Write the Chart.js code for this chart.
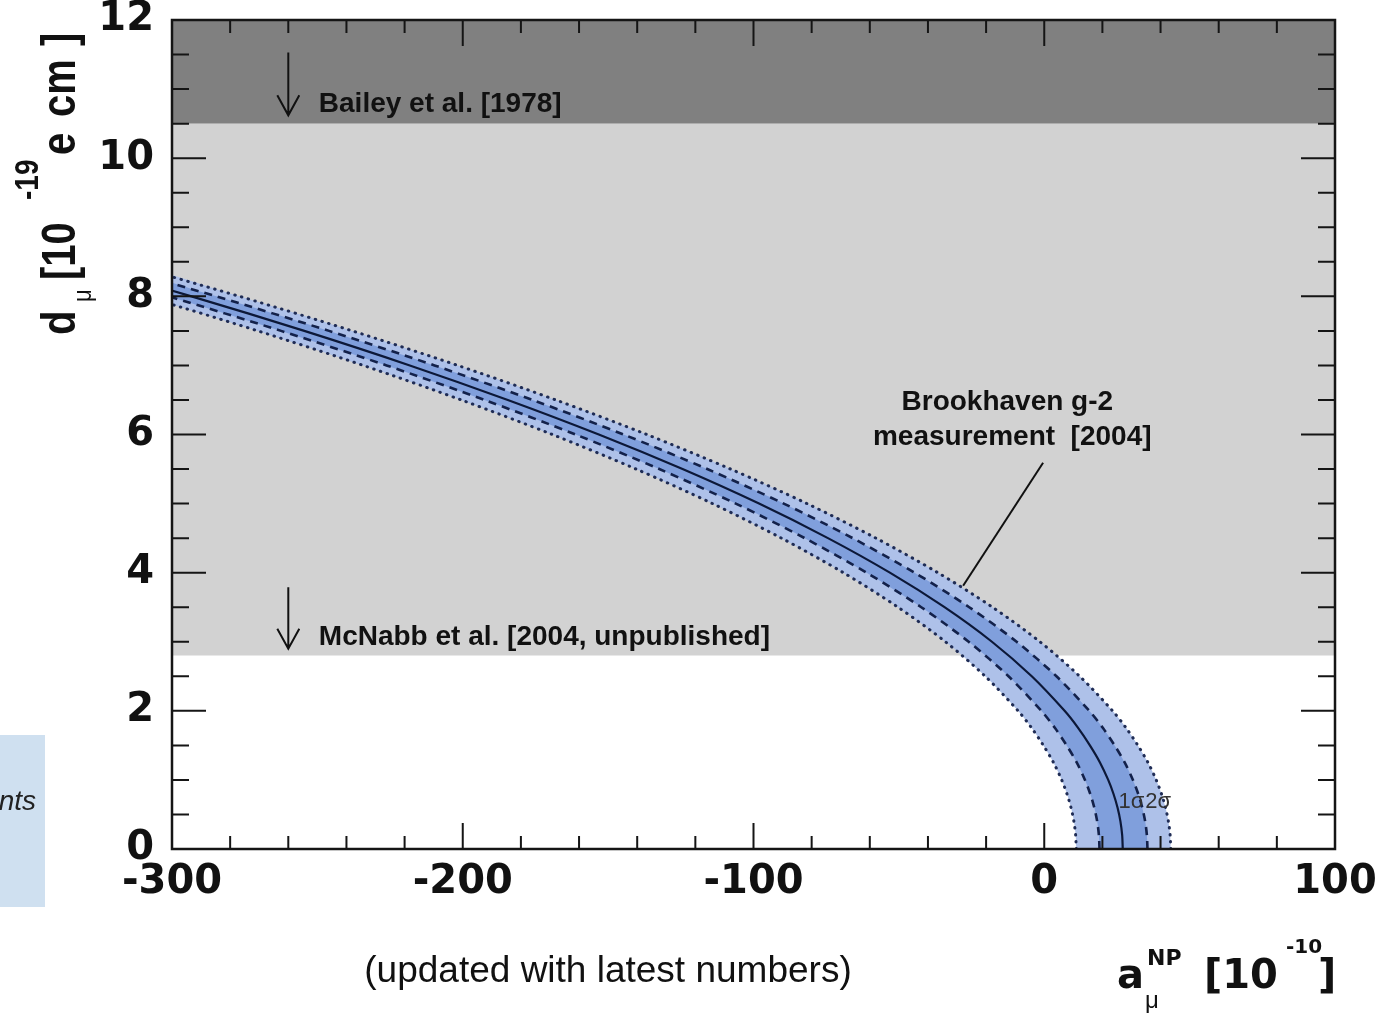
<!DOCTYPE html>
<html>
<head>
<meta charset="utf-8">
<script src="https://cdn.jsdelivr.net/npm/chart.js@4.4.1/dist/chart.umd.min.js"></script>
<style>
  html, body { margin: 0; padding: 0; background: #fff; }
  #wrap { width: 1384px; height: 1016px; position: relative; }
</style>
</head>
<body>
<div id="wrap"><canvas id="edmChart" width="1384" height="1016"></canvas></div>
<script>
// axis ranges and tick labels
const xMin = -300, xMax = 100, xMinorStep = 20;
const yMin = 0, yMax = 12, yMinorStep = 0.5;
const xTicks = [-300, -200, -100, 0, 100];
const yTicks = [0, 2, 4, 6, 8, 10, 12];

// excluded regions (upper limits on d_mu)
const baileyLimit = 10.5;   // Bailey et al. [1978]
const mcnabbLimit = 2.8;    // McNabb et al. [2004]

const dLevels = [0, 0.2, 0.4, 0.6, 0.8, 1.0, 1.25, 1.5, 1.75, 2.0, 2.5, 3.0, 3.5,
                 4.0, 4.5, 5.0, 5.5, 6.0, 6.5, 7.0, 7.5, 8.0, 8.5];
// a_mu^NP of each curve at those levels
const aCentral   = [27, 26.8, 26.2, 25.2, 23.8, 22, 19.2, 15.7, 11.7, 7, -4.3, -18, -34.3,
                    -53.1, -74.4, -98.1, -124.4, -153.2, -184.5, -218.2, -254.5, -293.3, -334.6];
const aSigma1Low = [19, 18.8, 18.2, 17.2, 15.8, 14, 11.2, 7.7, 3.7, -1, -12.3, -26, -42.3,
                    -61.1, -82.4, -106.1, -132.4, -161.2, -192.5, -226.2, -262.5, -301.3, -342.6];
const aSigma1High = [35.5, 35.3, 34.7, 33.7, 32.3, 30.5, 27.7, 24.2, 20.2, 15.5, 4.2, -9.5, -25.8,
                     -44.6, -65.9, -89.6, -115.9, -144.7, -176, -209.7, -246, -284.8, -326.1];
const aSigma2Low = [11, 10.8, 10.2, 9.2, 7.8, 6, 3.2, -0.3, -4.3, -9, -20.3, -34, -50.3,
                    -69.1, -90.4, -114.1, -140.4, -169.2, -200.5, -234.2, -270.5, -309.3, -350.6];
const aSigma2High = [43.5, 43.3, 42.7, 41.7, 40.3, 38.5, 35.7, 32.2, 28.2, 23.5, 12.2, -1.5, -17.8,
                     -36.6, -57.9, -81.6, -107.9, -136.7, -168, -201.7, -238, -276.8, -318.1];

const FONT = '"Liberation Sans", Arial, Helvetica, sans-serif';
const AXFONT = '"DejaVu Sans", "Liberation Sans", sans-serif';

function toPoints(xs) {
  return xs.map((x, i) => ({ x: x, y: dLevels[i] }));
}
// closed outline: lower edge upwards, upper edge back down
function bandPoints(lo, hi) {
  return toPoints(lo).concat(toPoints(hi).reverse());
}

function curve(data, color, width, dash, cap, order) {
  return {
    data: data, borderColor: color, borderWidth: width, borderDash: dash,
    borderCapStyle: cap, pointRadius: 0, tension: 0.3, fill: false, order: order
  };
}

// inward ticks on all four sides + frame
const frameTicks = {
  id: 'frameTicks',
  afterDatasetsDraw(chart) {
    const { ctx, chartArea: a, scales: { x, y } } = chart;
    ctx.save();
    ctx.strokeStyle = '#151515';
    ctx.lineWidth = 2;
    ctx.beginPath();
    for (let v = xMin; v <= xMax; v += xMinorStep) {
      const px = x.getPixelForValue(v);
      const len = xTicks.includes(v) ? 26 : 13;
      ctx.moveTo(px, a.bottom); ctx.lineTo(px, a.bottom - len);
      ctx.moveTo(px, a.top); ctx.lineTo(px, a.top + len);
    }
    for (let v = yMin; v <= yMax; v += yMinorStep) {
      const py = y.getPixelForValue(v);
      const len = yTicks.includes(v) ? 34 : 17;
      ctx.moveTo(a.left, py); ctx.lineTo(a.left + len, py);
      ctx.moveTo(a.right, py); ctx.lineTo(a.right - len, py);
    }
    ctx.stroke();
    ctx.lineWidth = 2.5;
    ctx.strokeRect(a.left, a.top, a.right - a.left, a.bottom - a.top);
    ctx.restore();
  }
};

function downArrow(ctx, px, top, tip) {
  ctx.beginPath();
  ctx.moveTo(px, top); ctx.lineTo(px, tip);
  ctx.moveTo(px - 11, tip - 20); ctx.lineTo(px, tip); ctx.lineTo(px + 11, tip - 20);
  ctx.stroke();
}

// labels, arrows and axis titles
const annotations = {
  id: 'annotations',
  afterDraw(chart) {
    const { ctx, scales: { x, y } } = chart;
    ctx.save();
    ctx.fillStyle = '#111';
    ctx.strokeStyle = '#111';
    ctx.lineWidth = 2;
    ctx.textBaseline = 'alphabetic';

    // limits
    downArrow(ctx, x.getPixelForValue(-260), y.getPixelForValue(11.53), y.getPixelForValue(10.62));
    downArrow(ctx, x.getPixelForValue(-260), y.getPixelForValue(3.79), y.getPixelForValue(2.90));
    ctx.font = 'bold 28px ' + FONT;
    ctx.textAlign = 'left';
    ctx.fillText('Bailey et al. [1978]', x.getPixelForValue(-249.5), y.getPixelForValue(10.67));
    ctx.fillText('McNabb et al. [2004, unpublished]', x.getPixelForValue(-249.5), y.getPixelForValue(2.95));

    // Brookhaven label with pointer
    ctx.textAlign = 'center';
    ctx.fillText('Brookhaven g-2', x.getPixelForValue(-12.7), y.getPixelForValue(6.35));
    ctx.fillText('measurement  [2004]', x.getPixelForValue(-11), y.getPixelForValue(5.85));
    ctx.beginPath();
    ctx.moveTo(x.getPixelForValue(-0.4), y.getPixelForValue(5.59));
    ctx.lineTo(x.getPixelForValue(-27.9), y.getPixelForValue(3.81));
    ctx.stroke();

    // sigma labels
    ctx.font = '22px ' + FONT;
    ctx.fillStyle = '#333';
    ctx.textAlign = 'left';
    ctx.fillText('1\u03c3', x.getPixelForValue(25.5), y.getPixelForValue(0.59));
    ctx.fillText('2\u03c3', x.getPixelForValue(34.7), y.getPixelForValue(0.59));

    // y title, rotated
    ctx.fillStyle = '#111';
    ctx.save();
    ctx.translate(75, 336);
    ctx.rotate(-Math.PI / 2);
    ctx.scale(1, 1.2);
    ctx.font = 'bold 40px ' + FONT;
    ctx.fillText('d', 1, 0);
    ctx.font = '22px ' + FONT;
    ctx.fillText('\u03bc', 34, 13);
    ctx.font = 'bold 40px ' + FONT;
    ctx.fillText('[10', 56, 0);
    ctx.font = 'bold 28px ' + FONT;
    ctx.fillText('-19', 136, -31);
    ctx.font = 'bold 40px ' + FONT;
    ctx.fillText('e', 181, 0);
    ctx.fillText('cm', 219, 0);
    ctx.fillText(']', 290, 0);
    ctx.restore();

    // x title
    const by = 988;
    ctx.font = 'bold 40px ' + AXFONT;
    ctx.fillText('a', 1117, by);
    ctx.font = 'bold 22px ' + AXFONT;
    ctx.fillText('NP', 1147, 965);
    ctx.font = '24px ' + FONT;
    ctx.fillText('\u03bc', 1145, 1008);
    ctx.font = 'bold 40px ' + AXFONT;
    ctx.fillText('[10', 1204, by);
    ctx.font = 'bold 20px ' + AXFONT;
    ctx.fillText('-10', 1286, 953);
    ctx.font = 'bold 40px ' + AXFONT;
    ctx.fillText(']', 1318, by);

    // caption
    ctx.font = '37px ' + FONT;
    ctx.textAlign = 'center';
    ctx.fillText('(updated with latest numbers)', 608, 982);

    // cut-off side box
    ctx.fillStyle = '#cfe0f0';
    ctx.fillRect(0, 735, 45, 172);
    ctx.fillStyle = '#222';
    ctx.font = 'italic 28px ' + FONT;
    ctx.textAlign = 'right';
    ctx.fillText('nts', 36, 810);
    ctx.restore();
  }
};

new Chart(document.getElementById('edmChart'), {
  type: 'line',
  data: {
    datasets: [
      curve(toPoints(aCentral), '#0c1838', 2.2, [], 'butt', 1),
      curve(toPoints(aSigma1Low), '#13214a', 2.6, [8, 6], 'butt', 2),
      curve(toPoints(aSigma1High), '#13214a', 2.6, [8, 6], 'butt', 2),
      curve(toPoints(aSigma2Low), '#1f2c55', 3, [0.5, 6.5], 'round', 3),
      curve(toPoints(aSigma2High), '#1f2c55', 3, [0.5, 6.5], 'round', 3),
      {
        data: bandPoints(aSigma1Low, aSigma1High), borderWidth: 0, pointRadius: 0,
        tension: 0.3, fill: 'shape', backgroundColor: '#809fdc', order: 6
      },
      {
        data: bandPoints(aSigma2Low, aSigma2High), borderWidth: 0, pointRadius: 0,
        tension: 0.3, fill: 'shape', backgroundColor: '#aec1e9', order: 7
      },
      {
        data: [{ x: xMin, y: mcnabbLimit }, { x: xMax, y: mcnabbLimit }],
        borderWidth: 0, pointRadius: 0, fill: { value: baileyLimit },
        backgroundColor: '#d2d2d2', order: 9
      },
      {
        data: [{ x: xMin, y: baileyLimit }, { x: xMax, y: baileyLimit }],
        borderWidth: 0, pointRadius: 0, fill: 'end',
        backgroundColor: '#808080', order: 9
      }
    ]
  },
  options: {
    responsive: false,
    animation: false,
    layout: { autoPadding: false, padding: { left: 0, top: 20, right: 49, bottom: 0 } },
    plugins: { legend: { display: false }, tooltip: { enabled: false } },
    scales: {
      x: {
        type: 'linear', min: xMin, max: xMax,
        grid: { display: false, drawTicks: false }, border: { display: false },
        afterBuildTicks: s => { s.ticks = xTicks.map(v => ({ value: v })); },
        afterFit: s => { s.height = 167; s.paddingLeft = 0; s.paddingRight = 0; },
        ticks: {
          color: '#111', padding: 10, maxRotation: 0,
          font: { family: AXFONT, size: 40, weight: 'bold' },
          callback: v => String(v)
        }
      },
      y: {
        type: 'linear', min: yMin, max: yMax,
        grid: { display: false, drawTicks: false }, border: { display: false },
        afterBuildTicks: s => { s.ticks = yTicks.map(v => ({ value: v })); },
        afterFit: s => { s.width = 172; s.paddingTop = 0; s.paddingBottom = 0; },
        ticks: {
          color: '#111', padding: 18,
          font: { family: AXFONT, size: 40, weight: 'bold' },
          callback: v => String(v)
        }
      }
    }
  },
  plugins: [frameTicks, annotations]
});
</script>
</body>
</html>
